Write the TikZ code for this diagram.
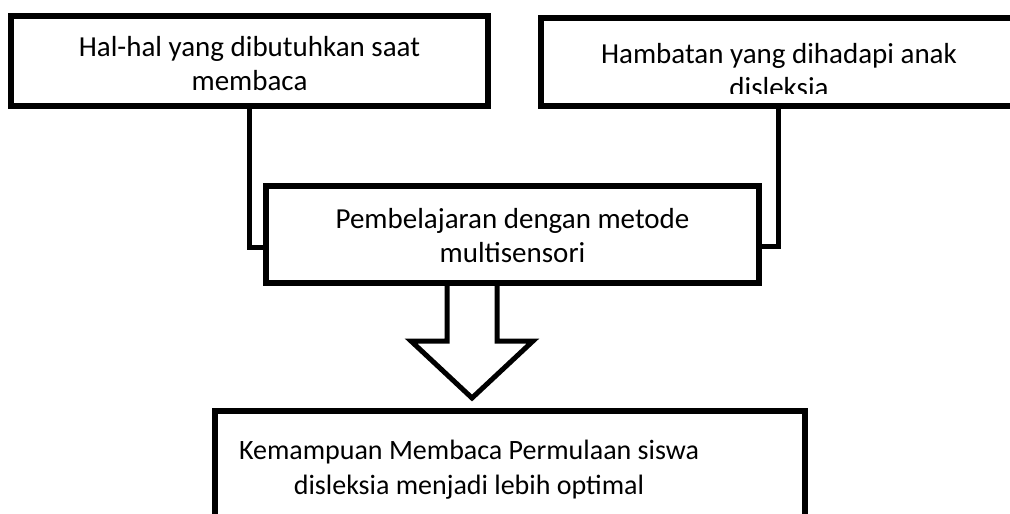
\documentclass[tikz,border=0pt]{standalone}
\usepackage{fontspec}
\setmainfont{Carlito}
\usepackage{tikz}
\usetikzlibrary{positioning}

\begin{document}
\begin{tikzpicture}[x=1pt,y=-1pt,
    box/.style={draw,line width=6pt,fill=white,inner sep=0pt},
    txt/.style={align=center,font=\fontsize{29}{34}\selectfont,inner sep=0pt,anchor=base},
    link/.style={draw,line width=5pt}]
    \useasboundingbox (0,0) rectangle (1010,514);
    \clip (0,0) rectangle (1010,514);

    % Boxes
    \node[box,minimum width=477pt,minimum height=90pt] (b1) at (249.5,61) {};
    \node[box,minimum width=478pt,minimum height=88pt] (b2) at (780,62) {};
    \node[box,minimum width=493pt,minimum height=97pt] (b3) at (512.5,234.5) {};
    \node[box,minimum width=590pt,minimum height=118pt] (b4) at (510,470) {};

    % Texts (anchored at the baseline of the last line)
    \node[txt] (t1) at (249.5,90) {Hal-hal yang dibutuhkan saat\\membaca};
    \begin{scope}
        \clip (541,18) rectangle (1019,93);
        \node[txt] (t2) at (779,97) {Hambatan yang dihadapi anak\\disleksia};
    \end{scope}
    \node[txt] (t3) at (512.5,262) {Pembelajaran dengan metode\\multisensori};
    \node[txt,font=\fontsize{28}{35}\selectfont] (t4) at (469,494) {Kemampuan Membaca Permulaan siswa\\disleksia menjadi lebih optimal};

    % Connectors
    \path[link] (b1) |- ([yshift=-12.5pt]b3.west);
    \path[link] ([xshift=-2pt]b2.south) |- ([yshift=-12pt]b3.east);

    % Hollow arrow
    \draw[line width=5pt,fill=white,miter limit=10]
        (447,286) -- (447,341) -- (411,341) -- (472,398) -- (533,341) -- (497,341) -- (497,286);
\end{tikzpicture}
\end{document}
